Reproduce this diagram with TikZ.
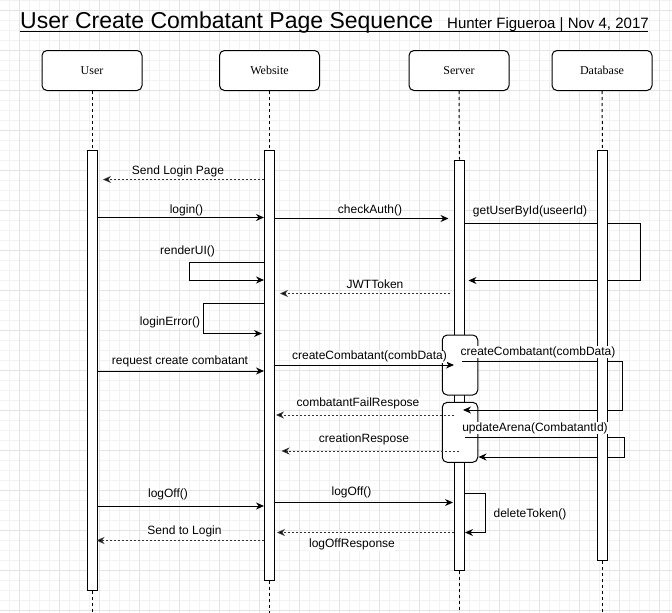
\documentclass[tikz,border=0pt]{standalone}
\usepackage{fontspec}
\setmainfont{Liberation Serif}
\setsansfont{Liberation Sans}
\usetikzlibrary{arrows.meta,calc}
\begin{document}
\begin{tikzpicture}[x=1pt,y=-1pt,
  minor/.style={draw=black!5,line width=0.6pt},
  major/.style={draw=black!11,line width=0.8pt},
  head/.style={draw,rounded corners=5pt,minimum width=100pt,minimum height=40pt,inner sep=0pt,line width=1pt,fill=white,font=\fontsize{12}{14}\selectfont},
  bar/.style={draw,fill=white,line width=1pt,minimum width=10pt,inner sep=0pt},
  life/.style={line width=1pt,dash pattern=on 3pt off 3pt},
  msg/.style={line width=1pt,-{Stealth[length=8pt,width=7pt]}},
  ret/.style={line width=0.8pt,draw=black!80,dash pattern=on 2pt off 2pt,-{Stealth[length=8pt,width=7pt,fill=black]}},
  lbl/.style={font=\sffamily\fontsize{12}{14}\selectfont,fill=white,inner sep=0.3pt},
  frag/.style={draw,fill=white,rounded corners=5pt,line width=1pt,minimum width=35.5pt,minimum height=60pt,inner sep=0pt}
]
\useasboundingbox (0,0) rectangle (672,613);
\fill[white] (0,0) rectangle (672,613);
% grid
\foreach \x in {9,19,...,669} \draw[minor] (\x,0) -- (\x,613);
\foreach \y in {0,10,...,610} \draw[minor] (0,\y) -- (672,\y);
\foreach \x in {19,59,...,659} \draw[major] (\x,0) -- (\x,613);
\foreach \y in {10,50,...,610} \draw[major] (0,\y) -- (672,\y);

% title
\node[anchor=base west,inner sep=0pt,font=\sffamily\fontsize{23}{26}\selectfont] (title) at (20,28) {User Create Combatant Page Sequence};
\node[anchor=base west,inner sep=0pt,font=\sffamily\fontsize{15}{17}\selectfont] (sub) at (447,28) {Hunter Figueroa | Nov 4, 2017};
\draw[line width=1.6pt] (20,31.5) -- (446,31.5);
\draw[line width=1pt] (446,31.5) -- (648,31.5);

\coordinate (bot) at (0,613);

% heads
\node[head] (uHead) at (92,70.5) {User};
\node[head] (wHead) at (269.5,70.5) {Website};
\node[head] (sHead) at (459,70.5) {Server};
\node[head] (dHead) at (602,70.5) {Database};

% bars
\node[bar,minimum height=440pt] (uBar) at (92,370) {};
\node[bar,minimum height=430pt] (wBar) at (269.5,365) {};
\node[bar,minimum height=410pt] (sBar) at (459.5,365) {};

% lifelines
\draw[life] (uHead.south) -- (uBar.north);
\draw[life] (uBar.south) -- (uBar.south |- bot);
\draw[life] (wHead.south) -- (wBar.north);
\draw[life] (wBar.south) -- (wBar.south |- bot);
\draw[life] (sHead.south) -- (sBar.north);
\draw[life] (sBar.south) -- (sBar.south |- bot);
\draw[life] (dHead.south) -- (602.5,150);

% fragments
\node[frag] (f1) at (460,365) {};
\node[frag] (f2) at (460,432.3) {};

% messages
\draw[ret] (wBar.west |- 0,179.5) -- (103,179.5);
\node[lbl] (l1) at (178,171.7) {Send Login Page};

\draw[msg] (uBar.east |- 0,217.5) -- (wBar.west |- 0,217.5);
\node[lbl] (l2) at (186.5,210) {login()};

\draw[msg] (wBar.east |- 0,218.5) -- (448.5,218.5);
\node[lbl] (l3) at (370,210) {checkAuth()};

\draw[msg] (sBar.east |- 0,223.5) -- (640,223.5) -- (640,280.5) -- (468.5,280.5);

\draw[msg] (wBar.west |- 0,262) -- (189,262) -- (189,280) -- (wBar.west |- 0,280);
\node[lbl] (l5) at (187.5,251.7) {renderUI()};

\draw[ret] (450,293.5) -- (280,293.5);
\node[lbl] (l6) at (375,284.7) {JWTToken};

\draw[msg] (wBar.west |- 0,303.5) -- (203,303.5) -- (203,333.5) -- (262,333.5);
\node[lbl] (l7) at (170,322) {loginError()};

\draw[msg] (uBar.east |- 0,371) -- (wBar.west |- 0,371);
\node[lbl] (l8) at (180,361) {request create combatant};

\draw[msg] (wBar.east |- 0,365) -- (454,365);
\node[lbl] (l9) at (369.5,356.7) {createCombatant(combData)};

\draw[msg] (462,361) -- (622,361) -- (622,410) -- (463,410);

\draw[ret] (454,415) -- (276,415);
\node[lbl] (l11) at (358,403) {combatantFailRespose};

\draw[msg] (465,437.5) -- (624.5,437.5) -- (624.5,457) -- (478.5,457);

\draw[ret] (459,451) -- (281.5,451);
\node[lbl] (l13) at (364,439) {creationRespose};

\draw[msg] (uBar.east |- 0,506) -- (wBar.west |- 0,506);
\node[lbl] (l14) at (168,494.5) {logOff()};

\draw[msg] (wBar.east |- 0,502.5) -- (453,502.5);
\node[lbl] (l15) at (351.5,492.7) {logOff()};

\draw[msg] (sBar.east |- 0,493.5) -- (485,493.5) -- (485,532.5) -- (sBar.east |- 0,532.5);
\node[lbl] (l16) at (530,514) {deleteToken()};

\draw[ret] (454,532.5) -- (277,532.5);
\node[lbl] (l17) at (352,544.7) {logOffResponse};

\draw[ret] (wBar.west |- 0,540.5) -- (96.5,540.5);
\node[lbl] (l18) at (184.5,531.7) {Send to Login};

% database bar on top
\node[bar,minimum height=410pt] (dBar) at (602.5,355) {};
\draw[life] (dBar.south) -- (dBar.south |- bot);

% labels shown above the database bar
\node[lbl] (l4) at (530,211) {getUserById(useerId)};
\node[lbl] (l10) at (538,352) {createCombatant(combData)};
\node[lbl] (l12) at (535,428) {updateArena(CombatantId)};
\end{tikzpicture}
\end{document}
